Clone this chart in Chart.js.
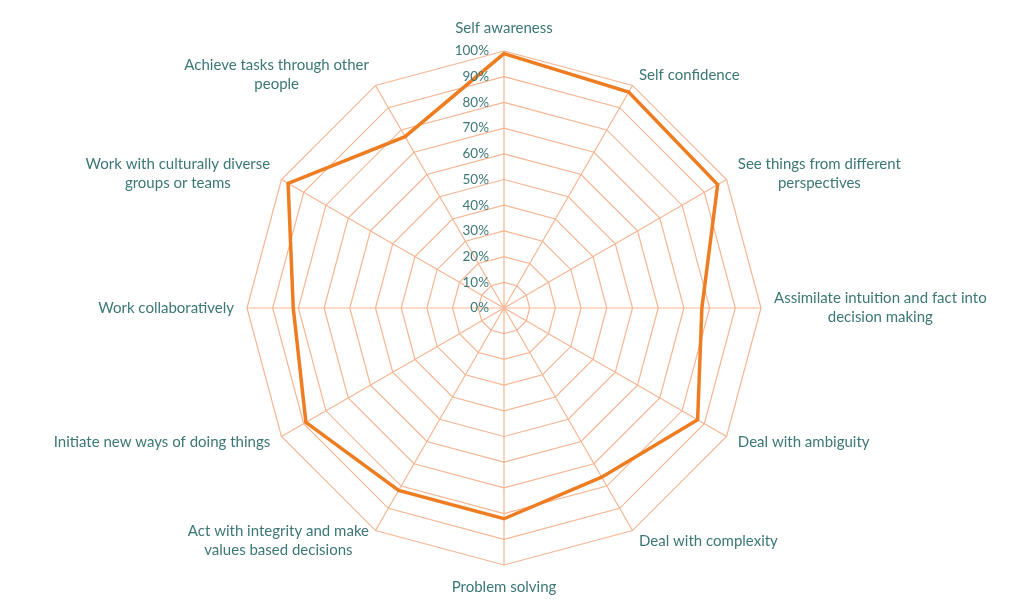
<!DOCTYPE html>
<html><head><meta charset="utf-8">
<script src="https://cdn.jsdelivr.net/npm/chart.js@4.4.0/dist/chart.umd.min.js"></script>
<style>html,body{margin:0;padding:0;background:#fff;} #wrap{width:1024px;height:609px;}</style>
</head><body><div id="wrap"><canvas id="c" width="1024" height="609"></canvas></div>
<script>
const categories = [
  ['Self awareness'],
  ['Self confidence'],
  ['See things from different', 'perspectives'],
  ['Assimilate intuition and fact into', 'decision making'],
  ['Deal with ambiguity'],
  ['Deal with complexity'],
  ['Problem solving'],
  ['Act with integrity and make', 'values based decisions'],
  ['Initiate new ways of doing things'],
  ['Work collaboratively'],
  ['Work with culturally diverse', 'groups or teams'],
  ['Achieve tasks through other', 'people']
];
const scores = [99, 97, 96, 77, 87, 76, 82, 82, 89, 82, 97, 77];
const tickValues = [0, 10, 20, 30, 40, 50, 60, 70, 80, 90, 100];
const tickLabels = ['0%', '10%', '20%', '30%', '40%', '50%', '60%', '70%', '80%', '90%', '100%'];

const TEXT_COLOR = '#3B7775';
const GRID_COLOR = '#F5B592';
const LINE_COLOR = '#EE7D22';
const LABEL_FONT = '15px Lato, "Open Sans", sans-serif';
const TICK_FONT = '13.5px Lato, "Open Sans", sans-serif';
const LH = 19;

const labelPlugin = {
  id: 'labelPlugin',
  afterDraw(chart) {
    const scale = chart.scales.r;
    const ctx = chart.ctx;
    ctx.save();
    ctx.fillStyle = TEXT_COLOR;
    ctx.textBaseline = 'middle';
    // tick labels
    ctx.font = TICK_FONT;
    ctx.textAlign = 'right';
    tickValues.forEach((v, k) => {
      const d = scale.getDistanceFromCenterForValue(v);
      ctx.fillText(tickLabels[k], scale.xCenter - 15, scale.yCenter - d);
    });
    // point labels
    ctx.font = LABEL_FONT;
    ctx.textAlign = 'center';
    const r = scale.getDistanceFromCenterForValue(100);
    categories.forEach((lines, i) => {
      const p = scale.getPointPosition(i, r);
      const a = scale.getIndexAngle(i);
      const s = Math.sin(a), c = Math.cos(a);
      const h = lines.length * LH;
      const w = Math.max(...lines.map(t => ctx.measureText(t).width));
      let cx, cy;
      if (Math.abs(s) < 0.01) {
        cx = p.x; cy = p.y - c * (13 + h / 2);
      } else {
        const edge = p.x + 13 * s;
        cx = s > 0 ? edge + w / 2 : edge - w / 2;
        cy = p.y - c * 12;
      }
      lines.forEach((t, k) => {
        ctx.fillText(t, cx, cy - h / 2 + LH * (k + 0.5));
      });
    });
    ctx.restore();
  }
};

new Chart(document.getElementById('c'), {
  type: 'radar',
  data: {
    labels: categories,
    datasets: [{
      data: scores,
      borderColor: LINE_COLOR,
      borderWidth: 3.5,
      pointRadius: 0,
      pointHoverRadius: 0,
      fill: false,
      tension: 0
    }]
  },
  options: {
    responsive: false,
    animation: false,
    layout: { padding: { top: 51, bottom: 44, left: 247, right: 263 } },
    plugins: { legend: { display: false }, tooltip: { enabled: false } },
    elements: { line: { borderJoinStyle: 'miter' } },
    scales: {
      r: {
        min: 0, max: 100,
        ticks: { stepSize: 10, display: false },
        pointLabels: { display: false },
        grid: { color: GRID_COLOR, lineWidth: 1.2, circular: false },
        angleLines: { color: GRID_COLOR, lineWidth: 1.2 }
      }
    }
  },
  plugins: [labelPlugin]
});
</script>
</body></html>
